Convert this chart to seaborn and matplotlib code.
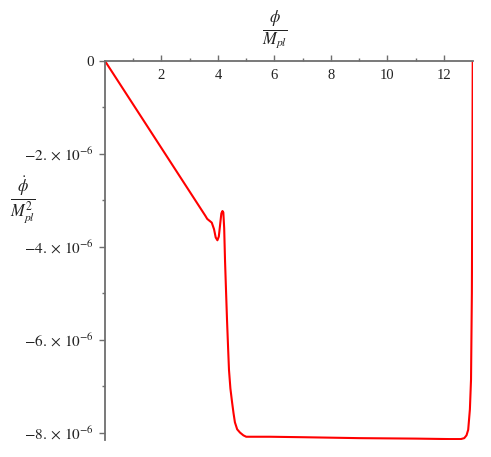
import matplotlib
matplotlib.use("Agg")
import matplotlib.pyplot as plt
import seaborn as sns
import pandas as pd
from matplotlib.ticker import FixedLocator

# Curve (phi/M_pl, dphi/M_pl^2 in units of 1e-6)
phi = [0.0, 3.55, 3.62, 3.70, 3.78, 3.86, 3.92, 3.98, 4.03, 4.08, 4.12, 4.16,
       4.19, 4.22, 4.25, 4.28, 4.32, 4.36, 4.39, 4.44, 4.50, 4.55, 4.60, 4.68,
       4.78, 4.90, 5.0, 5.84, 7.0, 9.0, 11.0, 12.2, 12.6, 12.72, 12.8, 12.86,
       12.92, 12.96, 12.99, 13.01, 13.02]
dphi = [0.0, -3.33, -3.40, -3.44, -3.48, -3.62, -3.80, -3.86, -3.78, -3.50,
        -3.28, -3.23, -3.26, -3.60, -4.30, -4.85, -5.57, -6.20, -6.65, -7.05,
        -7.35, -7.58, -7.78, -7.93, -8.00, -8.06, -8.09, -8.09, -8.10, -8.12,
        -8.13, -8.14, -8.14, -8.12, -8.06, -7.94, -7.50, -6.86, -5.00, -2.00,
        0.0]
scale = 1e-6

x_major = [2, 4, 6, 8, 10, 12]
x_minor = [1, 3, 5, 7, 9, 11]
y_major = [0, -2, -4, -6, -8]
y_minor = [-1, -3, -5, -7]
y_labels = ["0", r"$-2.\times\,10^{-6}$", r"$-4.\times\,10^{-6}$",
            r"$-6.\times\,10^{-6}$", r"$-8.\times\,10^{-6}$"]

sns.set_theme(style="white")
plt.rcParams["font.family"] = "serif"
plt.rcParams["font.serif"] = ["Liberation Serif", "DejaVu Serif"]
plt.rcParams["mathtext.fontset"] = "stix"

df = pd.DataFrame({"phi": phi, "dphi": [v * scale for v in dphi]})

fig = plt.figure(figsize=(4.91, 4.57), dpi=100)
ax = fig.add_axes([105/491, 1-440/457, (473-105)/491, (440-61)/457])

sns.lineplot(data=df, x="phi", y="dphi", sort=False, estimator=None,
             color="#ff0000", lw=1.5, ax=ax)

ax.set_xlim(0, 13.03)
ax.set_ylim(-8.16e-6, 0)

axis_col = "#6e6e6e"
ax.spines["top"].set_visible(False)
ax.spines["right"].set_visible(False)
ax.spines["bottom"].set_position(("data", 0))
for s in ("bottom", "left"):
    ax.spines[s].set_color(axis_col)
    ax.spines[s].set_linewidth(1.3)

ax.xaxis.set_major_locator(FixedLocator(x_major))
ax.xaxis.set_minor_locator(FixedLocator(x_minor))
ax.set_xticklabels([str(v) for v in x_major])
ax.yaxis.set_major_locator(FixedLocator([v * scale for v in y_major]))
ax.yaxis.set_minor_locator(FixedLocator([v * scale for v in y_minor]))
ax.set_yticklabels(y_labels)

ax.tick_params(axis="x", which="both", direction="in", bottom=True, top=False,
               color=axis_col, labelsize=10.5, pad=6, labelcolor="#222222")
ax.tick_params(axis="x", which="major", length=4, width=1)
ax.tick_params(axis="x", which="minor", length=2.5, width=1)
ax.tick_params(axis="y", which="both", direction="out", left=True,
               color=axis_col, labelsize=11, pad=4, labelcolor="#222222")
ax.tick_params(axis="y", which="major", length=4, width=1)
ax.tick_params(axis="y", which="minor", length=2.5, width=1)

ax.set_xlabel("")
ax.set_ylabel("")
ax.grid(False)

fig.text(275/491, 1-30/457, r"$\frac{\phi}{M_{pl}}$", fontsize=17,
         ha="center", va="center", color="#222222")
fig.text(23/491, 1-200/457, r"$\frac{\dot{\phi}}{M_{pl}^{2}}$", fontsize=17,
         ha="center", va="center", color="#222222")

fig.savefig("out.png", dpi=100)
